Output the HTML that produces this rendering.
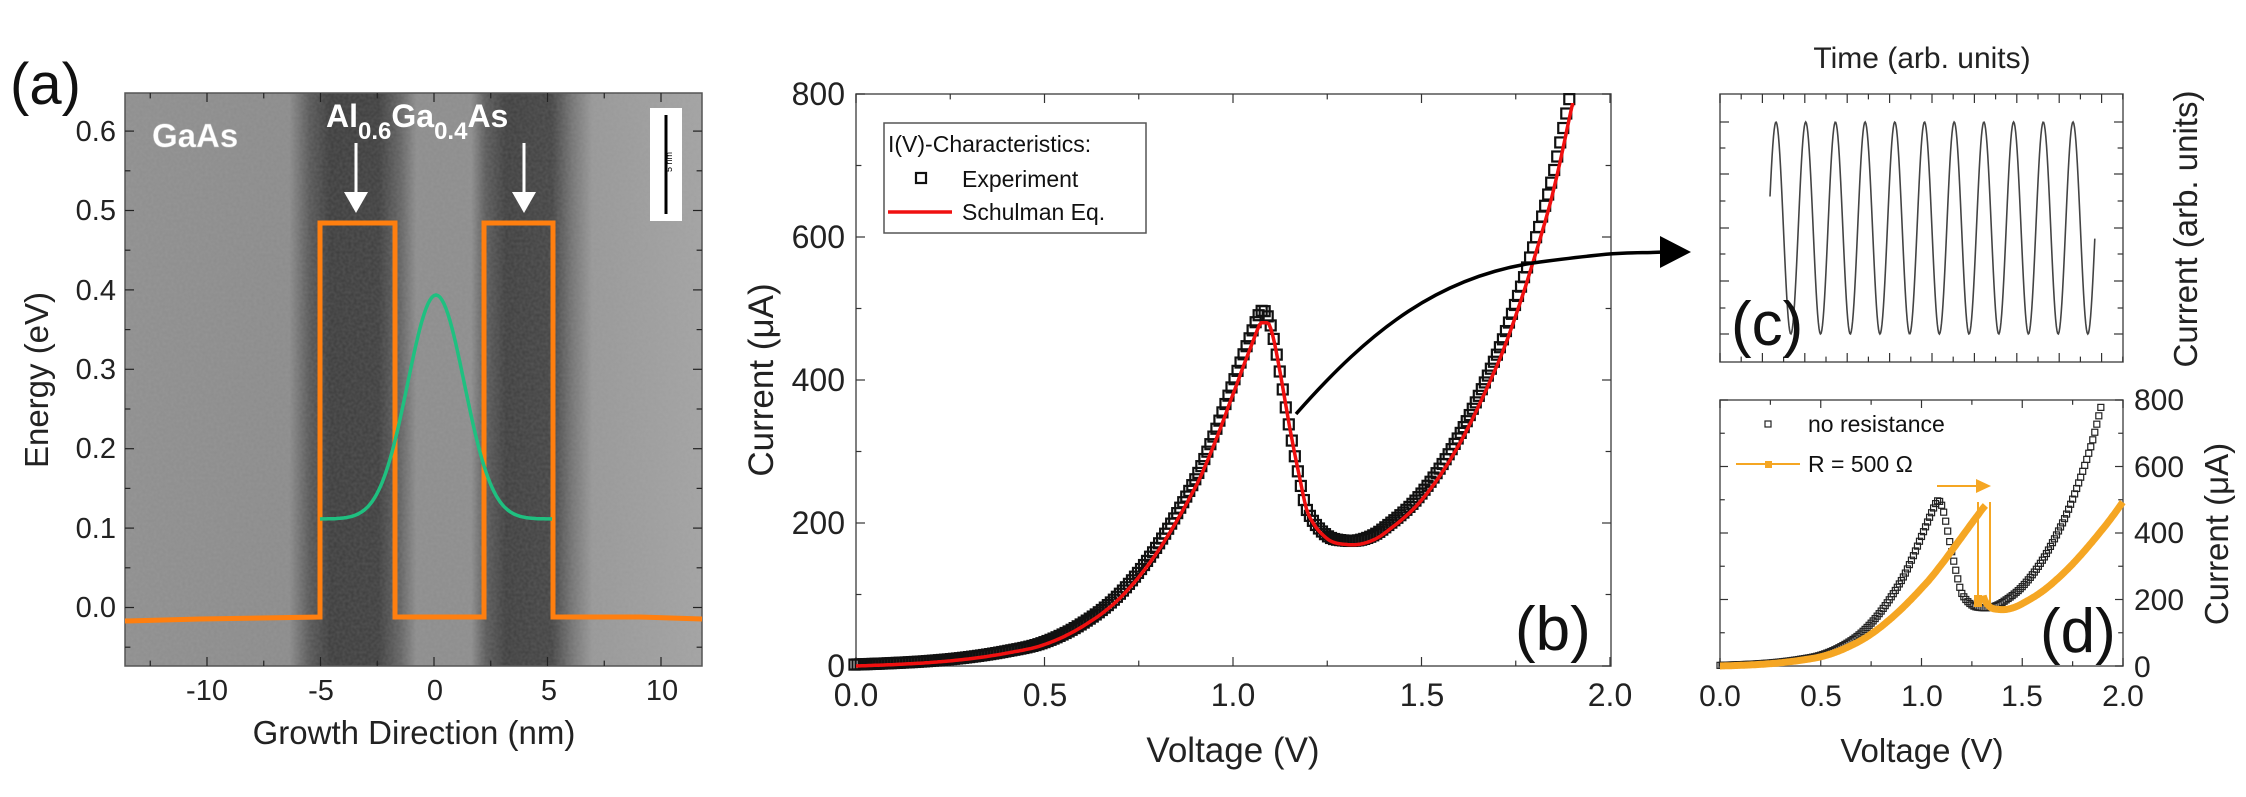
<!DOCTYPE html>
<html><head><meta charset="utf-8">
<style>
html,body{margin:0;padding:0;background:#fff;}
svg{display:block;font-family:"Liberation Sans",Arial,sans-serif;}
</style></head>
<body>
<svg id="s" width="2246" height="797" viewBox="0 0 2246 797" xmlns="http://www.w3.org/2000/svg">
<defs>
<linearGradient id="bg" x1="125" y1="0" x2="702" y2="0" gradientUnits="userSpaceOnUse">
<stop offset="0" stop-color="#8e8e8e"/>
<stop offset="0.285" stop-color="#8a8a8a"/>
<stop offset="0.32" stop-color="#555"/>
<stop offset="0.355" stop-color="#3a3a3a"/>
<stop offset="0.44" stop-color="#3c3c3c"/>
<stop offset="0.478" stop-color="#626262"/>
<stop offset="0.505" stop-color="#8c8c8c"/>
<stop offset="0.6" stop-color="#8c8c8c"/>
<stop offset="0.625" stop-color="#585858"/>
<stop offset="0.66" stop-color="#3c3c3c"/>
<stop offset="0.74" stop-color="#414141"/>
<stop offset="0.775" stop-color="#727272"/>
<stop offset="0.81" stop-color="#979797"/>
<stop offset="1" stop-color="#a2a2a2"/>
</linearGradient>
<filter id="noise" x="0" y="0" width="1" height="1">
<feTurbulence type="fractalNoise" baseFrequency="0.35" numOctaves="1" seed="3"/>
<feColorMatrix type="matrix" values="0 0 0 0 0.5  0 0 0 0 0.5  0 0 0 0 0.5  0 0 0 0.35 0"/>
</filter>
</defs>

<!-- Panel (a) -->
<rect x="125" y="93" width="577" height="573" fill="url(#bg)"/>
<rect x="125" y="93" width="577" height="573" filter="url(#noise)" opacity="0.6"/>
<rect x="125" y="93" width="577" height="573" fill="none" stroke="#555" stroke-width="1.5"/>
<g id="aticks" stroke="#222" stroke-width="1.2"></g>
<rect x="650" y="108" width="32" height="113" fill="#fff"/>
<line x1="666" y1="115" x2="666" y2="214" stroke="#000" stroke-width="3"/>
<text x="672" y="172" font-size="9" fill="#000" transform="rotate(-90 672 172)">5 nm</text>
<text x="152" y="147" font-size="33" font-weight="bold" fill="#fff" stroke="#bbb" stroke-width="0.5">GaAs</text>
<text x="326" y="127" font-size="32" font-weight="bold" fill="#fff">Al<tspan font-size="24" dy="12">0.6</tspan><tspan dy="-12">Ga</tspan><tspan font-size="24" dy="12">0.4</tspan><tspan dy="-12">As</tspan></text>
<g fill="#fff" stroke="#fff">
<line x1="356" y1="143" x2="356" y2="195" stroke-width="3"/>
<polygon points="344,192 368,192 356,213" stroke="none"/>
<line x1="524" y1="143" x2="524" y2="195" stroke-width="3"/>
<polygon points="512,192 536,192 524,213" stroke="none"/>
</g>
<polyline points="125,621 200,619 320,617 320,223 395,223 395,617 484,617 484,223 553,223 553,617 640,617 702,619" fill="none" stroke="#ff7f0f" stroke-width="5" stroke-linejoin="miter"/>
<polyline id="green" fill="none" stroke="#1fc080" stroke-width="3.5"/>
<g font-size="29" fill="#222">
<text x="116" y="141" text-anchor="end">0.6</text>
<text x="116" y="220" text-anchor="end">0.5</text>
<text x="116" y="300" text-anchor="end">0.4</text>
<text x="116" y="379" text-anchor="end">0.3</text>
<text x="116" y="458" text-anchor="end">0.2</text>
<text x="116" y="538" text-anchor="end">0.1</text>
<text x="116" y="617" text-anchor="end">0.0</text>
<text x="207" y="700" text-anchor="middle">-10</text>
<text x="321" y="700" text-anchor="middle">-5</text>
<text x="435" y="700" text-anchor="middle">0</text>
<text x="549" y="700" text-anchor="middle">5</text>
<text x="662" y="700" text-anchor="middle">10</text>
</g>
<text x="414" y="744" font-size="33" fill="#222" text-anchor="middle">Growth Direction (nm)</text>
<text x="48" y="380" font-size="33" fill="#222" text-anchor="middle" transform="rotate(-90 48 380)">Energy (eV)</text>
<text x="10" y="104" font-size="58" fill="#111">(a)</text>

<!-- Panel (b) -->
<rect x="856" y="94" width="755" height="572" fill="#fff" stroke="#555" stroke-width="1.5"/>
<g id="bticks" stroke="#333" stroke-width="1.2"></g>
<g id="bsq" fill="none" stroke="#111" stroke-width="2.2"></g>
<polyline id="bred" fill="none" stroke="#f01010" stroke-width="3.5"/>
<rect x="884" y="123" width="262" height="110" fill="#fff" stroke="#555" stroke-width="1.5"/>
<g font-size="23" fill="#111">
<text x="888" y="152">I(V)-Characteristics:</text>
<text x="962" y="187">Experiment</text>
<text x="962" y="220">Schulman Eq.</text>
</g>
<rect x="916" y="173" width="10" height="10" fill="none" stroke="#111" stroke-width="2.2"/>
<line x1="888" y1="212" x2="952" y2="212" stroke="#f01010" stroke-width="3.5"/>
<g font-size="32" fill="#222">
<text x="845" y="105" text-anchor="end">800</text>
<text x="845" y="248" text-anchor="end">600</text>
<text x="845" y="391" text-anchor="end">400</text>
<text x="845" y="534" text-anchor="end">200</text>
<text x="845" y="677" text-anchor="end">0</text>
<text x="856" y="706" text-anchor="middle">0.0</text>
<text x="1045" y="706" text-anchor="middle">0.5</text>
<text x="1233" y="706" text-anchor="middle">1.0</text>
<text x="1422" y="706" text-anchor="middle">1.5</text>
<text x="1610" y="706" text-anchor="middle">2.0</text>
</g>
<text x="1233" y="762" font-size="35" fill="#222" text-anchor="middle">Voltage (V)</text>
<text x="773" y="380" font-size="35" fill="#222" text-anchor="middle" transform="rotate(-90 773 380)">Current (μA)</text>
<text x="1515" y="650" font-size="62" fill="#111">(b)</text>
<path d="M1296 414 C1370 330 1440 275 1540 262 S1630 254 1664 252" fill="none" stroke="#000" stroke-width="3.5"/>
<polygon points="1660,236 1691,252 1660,268" fill="#000"/>

<!-- Panel (c) -->
<rect x="1720" y="94" width="403" height="268" fill="#fff" stroke="#555" stroke-width="1.5"/>
<g id="cticks" stroke="#333" stroke-width="1.2"></g>
<polyline id="csin" fill="none" stroke="#444" stroke-width="1.6"/>
<text x="1922" y="68" font-size="30" fill="#222" text-anchor="middle">Time (arb. units)</text>
<text x="2197" y="229" font-size="33" fill="#222" text-anchor="middle" transform="rotate(-90 2197 229)">Current (arb. units)</text>
<text x="1731" y="345" font-size="62" fill="#111">(c)</text>

<!-- Panel (d) -->
<rect x="1720" y="400" width="403" height="266" fill="#fff" stroke="#555" stroke-width="1.5"/>
<g id="dticks" stroke="#333" stroke-width="1.2"></g>
<g id="dsq" fill="none" stroke="#222" stroke-width="1.2"></g>
<g id="dor"></g>
<line x1="1937" y1="486" x2="1980" y2="486" stroke="#f5a623" stroke-width="2"/>
<polygon points="1976,479 1991,486 1976,493" fill="#f5a623"/>
<text x="2040" y="652" font-size="62" fill="#111">(d)</text>
<rect x="1765" y="421" width="6" height="6" fill="none" stroke="#222" stroke-width="1.2"/>
<line x1="1736" y1="464" x2="1800" y2="464" stroke="#f5a623" stroke-width="2"/>
<rect x="1765" y="461" width="7" height="7" fill="#f5a623"/>
<g font-size="23" fill="#111">
<text x="1808" y="432">no resistance</text>
<text x="1808" y="472">R = 500 Ω</text>
</g>
<g font-size="30" fill="#222">
<text x="2134" y="410">800</text>
<text x="2134" y="477">600</text>
<text x="2134" y="543">400</text>
<text x="2134" y="610">200</text>
<text x="2134" y="677">0</text>
<text x="1720" y="706" text-anchor="middle">0.0</text>
<text x="1821" y="706" text-anchor="middle">0.5</text>
<text x="1922" y="706" text-anchor="middle">1.0</text>
<text x="2022" y="706" text-anchor="middle">1.5</text>
<text x="2123" y="706" text-anchor="middle">2.0</text>
</g>
<text x="1922" y="762" font-size="33" fill="#222" text-anchor="middle">Voltage (V)</text>
<text x="2228" y="534" font-size="33" fill="#222" text-anchor="middle" transform="rotate(-90 2228 534)">Current (μA)</text>
</svg>
<script>
var NS="http://www.w3.org/2000/svg";
function el(p,t,a){var e=document.createElementNS(NS,t);for(var k in a)e.setAttribute(k,a[k]);document.getElementById(p).appendChild(e);return e;}
function ticks(p,x0,x1,y0,y1,xs,ys,len){
 xs.forEach(function(x){var L=x[1]?len:len*0.6;el(p,'line',{x1:x[0],y1:y1,x2:x[0],y2:y1-L});el(p,'line',{x1:x[0],y1:y0,x2:x[0],y2:y0+L});});
 ys.forEach(function(y){var L=y[1]?len:len*0.6;el(p,'line',{x1:x0,y1:y[0],x2:x0+L,y2:y[0]});el(p,'line',{x1:x1,y1:y[0],x2:x1-L,y2:y[0]});});
}
var xs=[],ys=[];for(var n=-12.5;n<=12.5;n+=2.5){var x=434+22.7*n;if(x>125&&x<702)xs.push([x,Math.abs(n%5)<0.01]);}
for(var e=-0.05;e<=0.65;e+=0.05){var y=607.5-e*794;if(y>93&&y<666)ys.push([y,Math.abs(Math.round(e*100)%10)<1]);}
ticks('aticks',125,702,93,666,xs,ys,9);
var g=[];for(var x=320;x<=553;x+=2){g.push(x+','+(519-224*Math.exp(-Math.pow(x-436,2)/(2*800))).toFixed(1));}
document.getElementById('green').setAttribute('points',g.join(' '));
xs=[];for(var v=0;v<=2.001;v+=0.25)xs.push([856+377*v,Math.abs((v*4)%2)<0.01]);
ys=[];for(var i=0;i<=800;i+=100)ys.push([666-0.715*i,i%200==0]);
ticks('bticks',856,1611,94,666,xs,ys,9);
var P=[[0,0],[0.1,2],[0.2,5],[0.3,10],[0.4,18],[0.5,30],[0.6,55],[0.7,95],[0.8,160],[0.9,250],[0.95,310],[1.0,380],[1.05,450],[1.08,485],[1.1,472],[1.12,425],[1.15,335],[1.18,255],[1.2,212],[1.25,178],[1.3,170],[1.35,172],[1.4,185],[1.5,232],[1.6,310],[1.7,420],[1.75,490],[1.8,572],[1.85,665],[1.9,785]];
function I(v){for(var k=0;k<P.length-1;k++){if(v<=P[k+1][0]){var a=P[k],b=P[k+1];var p0=P[Math.max(k-1,0)],p3=P[Math.min(k+2,P.length-1)];var t=(v-a[0])/(b[0]-a[0]);
 var m1=(b[1]-p0[1])/(b[0]-p0[0])*(b[0]-a[0]),m2=(p3[1]-a[1])/(p3[0]-a[0])*(b[0]-a[0]);
 var t2=t*t,t3=t2*t;return (2*t3-3*t2+1)*a[1]+(t3-2*t2+t)*m1+(-2*t3+3*t2)*b[1]+(t3-t2)*m2;}}return P[P.length-1][1];}
var red=[];for(var v=0;v<=1.905;v+=0.005){var i=I(v);if(v>1.06&&v<1.11)i=Math.min(i,480);red.push((856+377*v).toFixed(1)+','+(666-0.715*i).toFixed(1));}
document.getElementById('bred').setAttribute('points',red.join(' '));
for(var v=0;v<=1.9;v+=0.008){var i=I(v)*1.02+2;var x=856+377*(v-0.004),y=666-0.715*i;el('bsq','rect',{x:x-5,y:y-5,width:10,height:10});}
xs=[];for(var k=0;k<=19;k++){var x=1720+k*21.2;if(x<2123)xs.push([x,k%2==0]);}
ys=[[122,1],[148,0],[174,1],[201,0],[228,1],[254,0],[281,1],[308,0],[334,1]];
ticks('cticks',1720,2123,94,362,xs,ys,9);
var cs=[];var per=29.7,x0=1776;for(var x=1770;x<=2095;x+=0.7){var y=228-106*Math.cos(2*Math.PI*(x-x0)/per);cs.push(x.toFixed(1)+','+y.toFixed(1));}
document.getElementById('csin').setAttribute('points',cs.join(' '));
xs=[];for(var v=0;v<=2.001;v+=0.25)xs.push([1720+201.5*v,Math.abs((v*4)%2)<0.01]);
ys=[];for(var i=0;i<=800;i+=100)ys.push([666-0.3325*i,i%200==0]);
ticks('dticks',1720,2123,400,666,xs,ys,8);
for(var v=0;v<=1.9;v+=0.01){var i=I(v)*1.02+2;el('dsq','rect',{x:1720+201.5*v-3,y:666-0.3325*i-3,width:6,height:6});}
var o1=[],o2=[];
for(var v=0;v<=1.08;v+=0.004){var i=I(v);var V=v+i*0.0005;o1.push((1720+201.5*V).toFixed(1)+','+(666-0.3325*i).toFixed(1));}
for(var v=1.2;v<=1.9;v+=0.004){var i=I(v);var V=v+i*0.0005;if(V>2.0)break;o2.push((1720+201.5*V).toFixed(1)+','+(666-0.3325*i).toFixed(1));}
el('dor','polyline',{points:o1.join(' '),fill:'none',stroke:'#f5a623','stroke-width':7});
el('dor','polyline',{points:o2.join(' '),fill:'none',stroke:'#f5a623','stroke-width':7});
el('dor','line',{x1:1978,y1:502,x2:1978,y2:600,stroke:'#f5a623','stroke-width':2});
el('dor','line',{x1:1990,y1:502,x2:1990,y2:606,stroke:'#f5a623','stroke-width':2});
el('dor','rect',{x:1974,y:595,width:8,height:12,fill:'#f5a623'});
</script>
</body></html>
